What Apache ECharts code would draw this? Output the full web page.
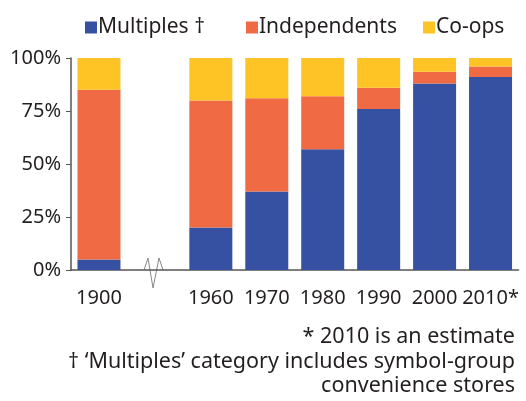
<!DOCTYPE html>
<html>
<head>
<meta charset="utf-8">
<script src="https://cdn.jsdelivr.net/npm/echarts@6/dist/echarts.min.js"></script>
<style>
  html, body { margin: 0; padding: 0; background: #fff; }
  #chart { width: 526px; height: 401px; }
</style>
</head>
<body>
<div id="chart"></div>
<script>
// 年份（空字符串是断轴处的空位）
const years = ['1900', '', '1960', '1970', '1980', '1990', '2000', '2010*']
const multiples = [5, null, 20, 37, 57, 76, 88, 91]
const independents = [80, null, 60, 44, 25, 10, 5.5, 5]
const coops = [15, null, 20, 19, 18, 14, 6.5, 4]
const yTicks = [0, 25, 50, 75, 100]

const textColor = '#231f20'
const font = 'Noto Sans'

const chart = echarts.init(document.getElementById('chart'))

const legendBase = {
  top: 12,
  itemWidth: 12,
  itemHeight: 12,
  icon: 'rect',
  textStyle: { fontSize: 21, color: textColor, fontFamily: font, padding: [0, 0, 0, -4] }
}

const option = {
  animation: false,
  legend: [
    Object.assign({ left: 80, data: ['Multiples †'] }, legendBase),
    Object.assign({ left: 241, data: ['Independents'] }, legendBase),
    Object.assign({ left: 418, data: ['Co-ops'] }, legendBase)
  ],
  grid: { left: 71, right: 7.5, top: 58, bottom: 131 },
  xAxis: {
    type: 'category',
    data: years,
    axisLine: { lineStyle: { color: '#555', width: 1.5 } },
    axisTick: { show: false },
    axisLabel: { interval: 0, fontSize: 20, color: textColor, fontFamily: font, margin: 18 }
  },
  yAxis: {
    type: 'value',
    min: 0,
    max: 100,
    interval: 25,
    axisLine: { show: true, lineStyle: { color: '#555', width: 1.5 } },
    axisTick: { show: true, length: 5, lineStyle: { color: '#555' } },
    splitLine: { show: false },
    axisLabel: {
      fontSize: 20, color: textColor, fontFamily: font, margin: 10,
      formatter: v => yTicks.includes(v) ? v + '%' : ''
    }
  },
  series: [
    { name: 'Multiples †', type: 'bar', stack: 'all', data: multiples, barWidth: 43, itemStyle: { color: '#3650a2' } },
    { name: 'Independents', type: 'bar', stack: 'all', data: independents, barWidth: 43, itemStyle: { color: '#f06a43' } },
    { name: 'Co-ops', type: 'bar', stack: 'all', data: coops, barWidth: 43, itemStyle: { color: '#fec325' } }
  ],
  graphic: [
    // 断轴符号
    {
      type: 'polyline',
      shape: { points: [[144, 270], [148, 258], [153, 288], [159, 258], [163, 270]] },
      style: { stroke: '#888', lineWidth: 1, fill: null }
    },
    {
      type: 'text', right: 11, top: 326,
      style: { text: '* 2010 is an estimate', fontSize: 21.5, fill: textColor, fontFamily: font, align: 'right' }
    },
    {
      type: 'text', right: 11, top: 350.5,
      style: { text: '† ‘Multiples’ category includes symbol-group', fontSize: 21.5, fill: textColor, fontFamily: font, align: 'right' }
    },
    {
      type: 'text', right: 11, top: 375,
      style: { text: 'convenience stores', fontSize: 21.5, fill: textColor, fontFamily: font, align: 'right' }
    }
  ]
}

chart.setOption(option)
</script>
</body>
</html>
